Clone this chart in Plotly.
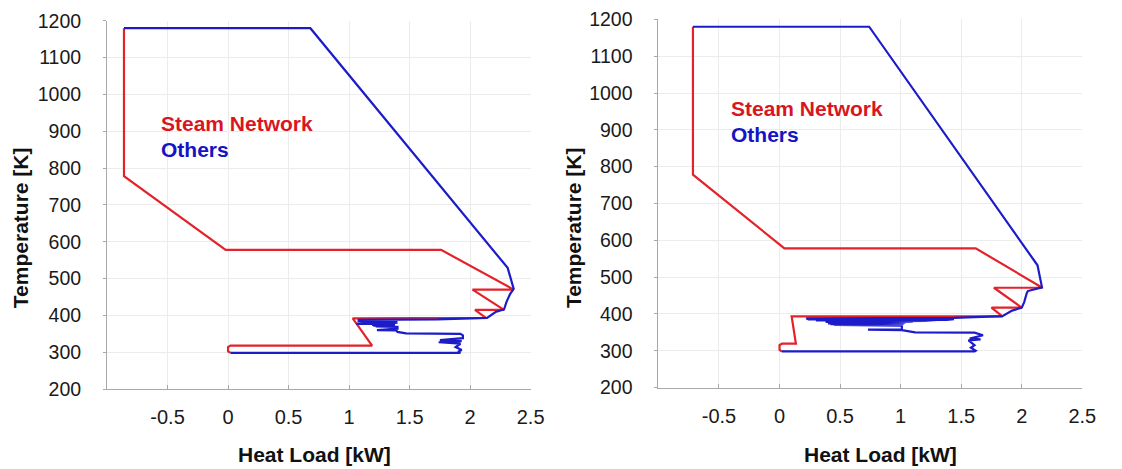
import plotly.graph_objects as go

# ---------------- data (left chart) ----------------
steam_x_left = [0.02, 0.0, 0.0, 0.02, 1.19, 1.03, 2.13, 2.04, 2.28, 2.02, 2.36, 1.76, -0.02, -0.86, -0.86]
steam_y_left = [298, 302, 314, 318, 318, 392, 393, 415, 415, 470, 470, 578, 578, 778, 1180]

others_x_left = [-0.86, 0.68, 2.31, 2.36, 2.33, 2.30, 2.28, 2.21, 2.14, 1.73, 1.07, 1.40, 1.07,
                 1.18, 1.18, 1.07, 1.06, 1.19, 1.40, 1.19, 1.40, 1.19, 1.40, 1.19, 1.40, 1.19,
                 1.38, 1.20, 1.38, 1.22, 1.40, 1.40, 1.23, 1.39, 1.40, 1.47, 1.92, 1.94, 1.94,
                 1.75, 1.93, 1.74, 1.92, 1.88, 1.93, 1.90, 1.92, 0.02]
others_y_left = [1180, 1180, 529, 472, 458, 436, 416, 409, 393, 389, 388, 386, 384.5,
                 383, 379, 379, 377, 377, 384, 381, 382, 379, 380, 376, 378, 374,
                 375, 372, 372, 370, 369, 364, 360, 359, 355, 351, 350, 346, 338,
                 333, 330, 327, 323, 314, 306, 301, 298, 298]

# ---------------- data (right chart) ----------------
steam_x_right = [0.02, 0.0, 0.0, 0.02, 0.135, 0.10, 1.84, 1.75, 2.00, 1.77, 2.17, 1.62, 0.04, -0.715, -0.715]
steam_y_right = [298, 302, 315, 319, 319, 393, 393, 417, 417, 471, 471, 578, 578, 778, 1180]

others_x_right = [-0.715, 0.74, 2.13, 2.167, 2.05, 2.04, 2.02, 2.00, 1.92, 1.87, 1.84, 1.44, 0.22,
                  0.24, 1.44, 0.26, 1.38, 0.30, 1.30, 0.35, 1.20, 0.38, 1.10, 0.40, 1.04, 0.40,
                  1.03, 0.42, 1.02, 0.45, 1.01, 1.01, 0.73, 1.01, 1.12, 1.61, 1.68, 1.57, 1.66,
                  1.56, 1.61, 1.58, 1.62, 1.61, 0.02]
others_y_right = [1180, 1180, 532, 472, 462, 455, 432, 417, 409, 399, 394, 389, 388,
                  385, 386, 384, 384, 382, 383, 380, 381, 378, 379, 376, 377, 374,
                  374, 372, 371, 370, 368, 358, 357, 356, 350, 349, 342, 333, 331,
                  328, 315, 308, 300, 298, 298]

x_ticks = [-0.5, 0, 0.5, 1, 1.5, 2, 2.5]
x_tick_labels = ["-0.5", "0", "0.5", "1", "1.5", "2", "2.5"]
y_ticks = [200, 300, 400, 500, 600, 700, 800, 900, 1000, 1100, 1200]

RED = "#e3222a"
BLUE = "#1c1cc8"
FONT = "Liberation Sans, Arial, sans-serif"

# the page body has an 8px margin: size the figure so it fills the window
OFF = 8
W = 1122 - OFF
H = 469 - OFF
T_M = 16 - OFF
B_M = 80
PH = H - T_M - B_M


def px_x(px):
    return (px - OFF) / W


def px_y(py):
    return 1 - (py - OFF - T_M) / PH


fig = go.Figure()
for xs, ys, col, xa, ya in [
    (steam_x_left, steam_y_left, RED, "x", "y"),
    (others_x_left, others_y_left, BLUE, "x", "y"),
    (steam_x_right, steam_y_right, RED, "x2", "y2"),
    (others_x_right, others_y_right, BLUE, "x2", "y2"),
]:
    fig.add_trace(go.Scatter(x=xs, y=ys, mode="lines", line=dict(color=col, width=2.2),
                             xaxis=xa, yaxis=ya, showlegend=False, hoverinfo="skip"))

xcommon = dict(range=[-1, 2.5], tickvals=x_ticks, ticktext=x_tick_labels,
               showgrid=True, gridcolor="#ececec", gridwidth=1, zeroline=False,
               showline=True, linecolor="#a8a8a8", linewidth=1,
               ticks="inside", ticklen=4, tickcolor="#a8a8a8", ticklabeloverflow="allow",
               tickfont=dict(family=FONT, size=20, color="#1a1a1a"), ticklabelstandoff=10)
ycommon = dict(range=[200, 1200], tickvals=y_ticks,
               showgrid=True, gridcolor="#ececec", gridwidth=1, zeroline=False,
               showline=True, linecolor="#a8a8a8", linewidth=1,
               ticks="outside", ticklen=3, tickcolor="#a8a8a8", ticklabeloverflow="allow",
               tickfont=dict(family=FONT, size=19.5, color="#1a1a1a"), ticklabelstandoff=18)

fig.update_layout(
    width=W, height=H,
    margin=dict(l=0, r=0, t=T_M, b=B_M),
    paper_bgcolor="white", plot_bgcolor="white",
    xaxis=dict(domain=[px_x(108.3), px_x(537.3)], anchor="y", **xcommon),
    yaxis=dict(domain=[0, 0.995], anchor="x", **ycommon),
    xaxis2=dict(domain=[px_x(666.7), px_x(1096)], anchor="y2", **xcommon),
    yaxis2=dict(domain=[0.004, 0.999], anchor="x2", **ycommon),
)

ann = []


def label(text, x, y, xref, yref, color, size=21, angle=0, xanchor="left"):
    ann.append(dict(text="<b>%s</b>" % text, x=x, y=y, xref=xref, yref=yref, showarrow=False,
                    xanchor=xanchor, yanchor="middle", textangle=angle,
                    font=dict(family=FONT, size=size, color=color)))


label("Steam Network", -0.571, 921, "x", "y", "#d9161f")
label("Others", -0.571, 851, "x", "y", "#1414c4")
label("Steam Network", -0.418, 957, "x2", "y2", "#d9161f")
label("Others", -0.418, 887, "x2", "y2", "#1414c4")

label("Heat Load [kW]", px_x(318), px_y(455), "paper", "paper", "#111111", xanchor="center")
label("Heat Load [kW]", px_x(892), px_y(455), "paper", "paper", "#111111", xanchor="center")
label("Temperature [K]", px_x(20), px_y(226), "paper", "paper", "#111111", angle=-90, xanchor="center")
label("Temperature [K]", px_x(580), px_y(226), "paper", "paper", "#111111", angle=-90, xanchor="center")
fig.update_layout(annotations=ann)

fig.write_html("out.html")
